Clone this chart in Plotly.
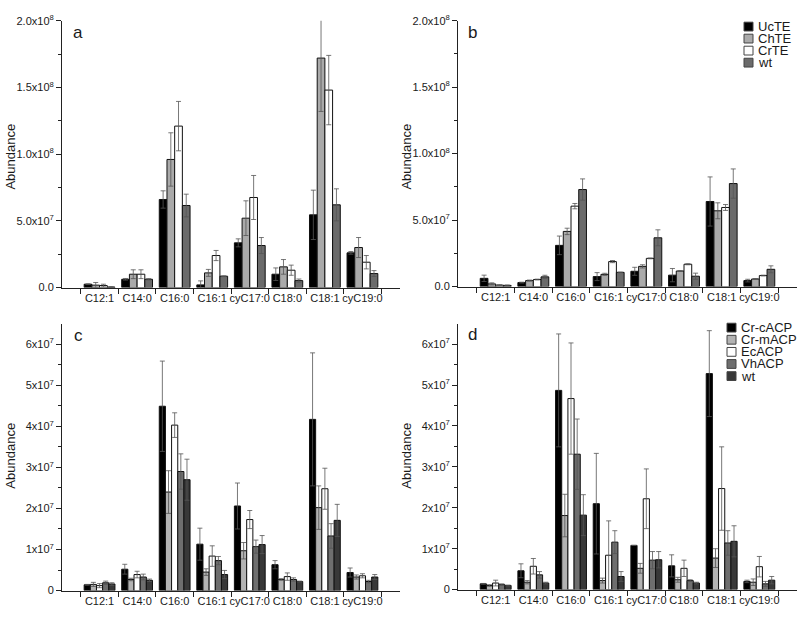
import plotly.graph_objects as go

W, H = 800, 621

categories = ["C12:1", "C14:0", "C16:0", "C16:1", "cyC17:0", "C18:0", "C18:1", "cyC19:0"]

te_names = ["UcTE", "ChTE", "CrTE", "wt"]
acp_names = ["Cr-cACP", "Cr-mACP", "EcACP", "VhACP", "wt"]

# Panel a (thioesterases, condition 1)
a_UcTE = [2.5e6, 6.2e6, 6.6e7, 2.0e6, 3.35e7, 1.0e7, 5.45e7, 2.6e7]
a_UcTE_err = [0.3e6, 0.6e6, 6.5e6, 3.0e6, 3.0e6, 4.7e6, 1.85e7, 1.0e6]
a_ChTE = [1.8e6, 1.0e7, 9.6e7, 1.1e7, 5.2e7, 1.55e7, 1.72e8, 3.0e7]
a_ChTE_err = [2.0e6, 3.3e6, 2.0e7, 2.6e6, 1.3e7, 5.5e6, 4.0e7, 7.5e6]
a_CrTE = [1.5e6, 1.0e7, 1.21e8, 2.4e7, 6.75e7, 1.3e7, 1.48e8, 1.9e7]
a_CrTE_err = [1.0e6, 3.3e6, 1.85e7, 3.8e6, 1.65e7, 3.8e6, 2.6e7, 5.0e6]
a_wt = [0.4e6, 6.2e6, 6.15e7, 8.5e6, 3.15e7, 5.2e6, 6.2e7, 1.05e7]
a_wt_err = [0.2e6, 0.5e6, 8.5e6, 0.3e6, 6.0e6, 1.2e6, 1.2e7, 2.2e6]

# Panel b
b_UcTE = [6.2e6, 3.0e6, 3.1e7, 7.5e6, 1.15e7, 8.6e6, 6.4e7, 4.5e6]
b_UcTE_err = [2.4e6, 0.3e6, 7.0e6, 3.0e6, 3.0e6, 5.0e6, 1.85e7, 1.0e6]
b_ChTE = [2.0e6, 4.5e6, 4.15e7, 9.2e6, 1.52e7, 1.17e7, 5.7e7, 5.7e6]
b_ChTE_err = [0.8e6, 0.4e6, 2.4e6, 0.8e6, 1.2e6, 0.3e6, 6.0e6, 0.3e6]
b_CrTE = [1.1e6, 5.3e6, 6.05e7, 1.88e7, 2.12e7, 1.68e7, 5.95e7, 8.3e6]
b_CrTE_err = [0.3e6, 0.3e6, 2.0e6, 0.8e6, 0.3e6, 0.4e6, 2.2e6, 0.3e6]
b_wt = [0.9e6, 7.3e6, 7.3e7, 1.07e7, 3.67e7, 7.8e6, 7.75e7, 1.3e7]
b_wt_err = [0.3e6, 1.2e6, 8.0e6, 0.2e6, 6.0e6, 2.3e6, 1.1e7, 2.6e6]

# Panel c (ACPs, condition 1)
c_CrcACP = [1.4e6, 5.2e6, 4.49e7, 1.13e7, 2.06e7, 6.3e6, 4.17e7, 4.4e6]
c_CrcACP_err = [0.1e6, 1.2e6, 1.1e7, 3.9e6, 5.6e6, 1.0e6, 1.62e7, 1.1e6]
c_CrmACP = [1.5e6, 2.7e6, 2.4e7, 4.5e6, 9.7e6, 2.7e6, 2.02e7, 3.3e6]
c_CrmACP_err = [0.5e6, 0.3e6, 5.2e6, 0.8e6, 2.0e6, 0.2e6, 5.3e6, 0.5e6]
c_EcACP = [1.2e6, 3.9e6, 4.03e7, 8.4e6, 1.73e7, 3.4e6, 2.48e7, 3.6e6]
c_EcACP_err = [0.5e6, 0.8e6, 3.0e6, 2.5e6, 2.2e6, 0.9e6, 5.0e6, 0.5e6]
c_VhACP = [1.9e6, 3.3e6, 2.9e7, 7.3e6, 1.07e7, 2.7e6, 1.33e7, 2.2e6]
c_VhACP_err = [0.4e6, 0.7e6, 4.3e6, 1.0e6, 1.6e6, 0.4e6, 3.0e6, 0.3e6]
c_wt = [1.6e6, 2.5e6, 2.7e7, 3.9e6, 1.12e7, 2.2e6, 1.71e7, 3.3e6]
c_wt_err = [0.3e6, 0.3e6, 5.0e6, 1.0e6, 2.2e6, 0.1e6, 3.9e6, 0.6e6]

# Panel d
d_CrcACP = [1.4e6, 4.6e6, 4.87e7, 2.1e7, 1.08e7, 5.8e6, 5.28e7, 2.0e6]
d_CrcACP_err = [0.1e6, 1.7e6, 1.38e7, 1.23e7, 0.0, 2.7e6, 1.05e7, 0.3e6]
d_CrmACP = [1.0e6, 1.8e6, 1.81e7, 2.2e6, 5.2e6, 2.4e6, 7.7e6, 1.8e6]
d_CrmACP_err = [0.2e6, 0.4e6, 5.2e6, 0.6e6, 1.2e6, 0.6e6, 2.3e6, 0.8e6]
d_EcACP = [1.6e6, 5.7e6, 4.67e7, 8.4e6, 2.22e7, 5.2e6, 2.47e7, 5.6e6]
d_EcACP_err = [0.7e6, 1.9e6, 1.36e7, 8.4e6, 7.3e6, 2.0e6, 1.02e7, 2.5e6]
d_VhACP = [1.2e6, 3.6e6, 3.31e7, 1.16e7, 7.2e6, 2.2e6, 1.14e7, 1.4e6]
d_VhACP_err = [0.2e6, 0.8e6, 8.6e6, 2.8e6, 2.1e6, 0.2e6, 3.0e6, 0.6e6]
d_wt = [1.0e6, 1.6e6, 1.82e7, 3.2e6, 7.3e6, 1.6e6, 1.18e7, 2.3e6]
d_wt_err = [0.1e6, 0.2e6, 5.0e6, 1.2e6, 2.0e6, 0.2e6, 3.8e6, 0.9e6]

# tick labels
ab_tickvals = [0, 5e7, 1e8, 1.5e8, 2e8]
ab_ticktext = ["0.0", "5.0x10<sup>7</sup>", "1.0x10<sup>8</sup>",
               "1.5x10<sup>8</sup>", "2.0x10<sup>8</sup>"]
cd_tickvals = [0, 1e7, 2e7, 3e7, 4e7, 5e7, 6e7]
cd_ticktext = ["0", "1x10<sup>7</sup>", "2x10<sup>7</sup>", "3x10<sup>7</sup>",
               "4x10<sup>7</sup>", "5x10<sup>7</sup>", "6x10<sup>7</sup>"]

te_colors = ["#000000", "#aaaaaa", "#ffffff", "#6b6b6b"]
acp_colors = ["#000000", "#b3b3b3", "#ffffff", "#6e6e6e", "#383838"]

FONT = "Liberation Sans, Arial, sans-serif"
TXT = "#1a1a1a"


def px(x):
    return x / W


def py(y):
    return 1 - y / H


panels = [
    dict(ax="", vals=[a_UcTE, a_ChTE, a_CrTE, a_wt],
         errs=[a_UcTE_err, a_ChTE_err, a_CrTE_err, a_wt_err],
         names=te_names, colors=te_colors),
    dict(ax="2", vals=[b_UcTE, b_ChTE, b_CrTE, b_wt],
         errs=[b_UcTE_err, b_ChTE_err, b_CrTE_err, b_wt_err],
         names=te_names, colors=te_colors),
    dict(ax="3", vals=[c_CrcACP, c_CrmACP, c_EcACP, c_VhACP, c_wt],
         errs=[c_CrcACP_err, c_CrmACP_err, c_EcACP_err, c_VhACP_err, c_wt_err],
         names=acp_names, colors=acp_colors),
    dict(ax="4", vals=[d_CrcACP, d_CrmACP, d_EcACP, d_VhACP, d_wt],
         errs=[d_CrcACP_err, d_CrmACP_err, d_EcACP_err, d_VhACP_err, d_wt_err],
         names=acp_names, colors=acp_colors),
]

fig = go.Figure()
for p in panels:
    for v, e, n, c in zip(p["vals"], p["errs"], p["names"], p["colors"]):
        fig.add_trace(go.Bar(
            x=categories, y=v, name=n, showlegend=False,
            xaxis="x" + p["ax"], yaxis="y" + p["ax"],
            marker=dict(color=c, line=dict(color="#111111", width=1)),
            error_y=dict(type="data", array=e, visible=True,
                         color="#555555", thickness=0.8, width=2.5),
        ))

# domains in pixels
xdom = {"": (62, 400), "2": (458, 797), "3": (62, 400), "4": (458, 797)}
ydom = {"": (13, 286), "2": (13, 285), "3": (323, 596), "4": (323, 595)}

layout = dict(
    width=W, height=H,
    margin=dict(l=0, r=0, t=0, b=0),
    paper_bgcolor="white", plot_bgcolor="white",
    barmode="group", bargap=0.18, bargroupgap=0.0,
    showlegend=False,
    font=dict(family=FONT, size=11, color=TXT),
)

for k in ["", "2", "3", "4"]:
    x0, x1 = xdom[k]
    y0, y1 = ydom[k]
    layout["xaxis" + k] = dict(
        domain=[px(x0), px(x1)], anchor="y" + k,
        type="category", categoryorder="array", categoryarray=categories,
        tickson="boundaries", ticks="outside", ticklen=5, tickcolor="#222",
        tickangle=0,
        showline=True, linecolor="#222", linewidth=1,
        showgrid=False, zeroline=False, range=[-1, 8],
        tickfont=dict(size=11, color=TXT, family=FONT), fixedrange=True,
    )
    if k in ("", "2"):
        tv, tt, rng, minor_vals = ab_tickvals, ab_ticktext, [0, 2e8], [2.5e7, 7.5e7, 1.25e8, 1.75e8]
    else:
        tv, tt, rng, minor_vals = cd_tickvals, cd_ticktext, [0, 6.5e7], [5e6, 1.5e7, 2.5e7, 3.5e7, 4.5e7, 5.5e7]
    layout["yaxis" + k] = dict(
        domain=[py(y1), py(y0)], anchor="x" + k, range=rng,
        tickmode="array", tickvals=tv, ticktext=tt,
        ticks="outside", ticklen=5, tickcolor="#222",
        minor=dict(tickmode="array", tickvals=minor_vals, ticks="outside",
                   ticklen=3, tickcolor="#222", showgrid=False),
        showline=True, linecolor="#222", linewidth=1,
        showgrid=False, zeroline=False,
        tickfont=dict(size=11, color=TXT, family=FONT), fixedrange=True,
    )

annotations = []
shapes = []

# panel letters
for letter, (x, y) in zip("abcd", [(78, 25), (472, 25), (78, 335), (472, 334)]):
    annotations.append(dict(xref="paper", yref="paper", x=px(x), y=py(y),
                            text=letter, showarrow=False, xanchor="center",
                            yanchor="middle", font=dict(size=17, color=TXT, family=FONT)))

# y-axis titles
for (x, y) in [(11, 152), (407, 152), (11, 458), (407, 458)]:
    annotations.append(dict(xref="paper", yref="paper", x=px(x), y=py(y),
                            text="Abundance", showarrow=False, textangle=-90,
                            xanchor="center", yanchor="middle",
                            font=dict(size=13, color=TXT, family=FONT)))


def legend(names, colors, sx, tx, y0, dy):
    for i, (n, c) in enumerate(zip(names, colors)):
        yc = y0 + i * dy
        shapes.append(dict(type="rect", xref="paper", yref="paper",
                           x0=px(sx), x1=px(sx + 9), y0=py(yc + 4.5), y1=py(yc - 4.5),
                           fillcolor=c, line=dict(color="#444", width=1)))
        annotations.append(dict(xref="paper", yref="paper", x=px(tx), y=py(yc),
                                text=n, showarrow=False, xanchor="left", yanchor="middle",
                                font=dict(size=13, color=TXT, family=FONT)))


legend(te_names, te_colors, 744, 756, 19, 12.3)
legend(acp_names, acp_colors, 727, 739, 327, 12.4)

layout["annotations"] = annotations
layout["shapes"] = shapes
fig.update_layout(**layout)

fig.write_html("out.html", config={"displayModeBar": False, "staticPlot": True},
               post_script="document.body.style.margin='0px';document.body.style.overflow='hidden';")
